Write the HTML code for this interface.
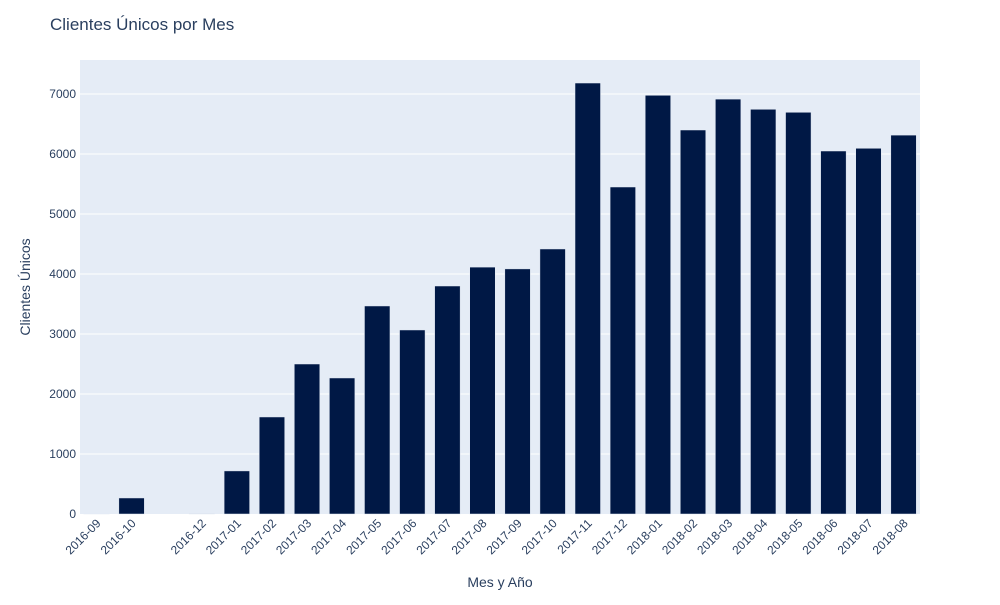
<!DOCTYPE html>
<html><head><meta charset="utf-8"><style>
body{margin:0;background:#fff;font-family:"Liberation Sans",Arial,sans-serif}
svg text{font-family:"Liberation Sans",Arial,sans-serif;fill:#2a3f5f}
</style></head><body>
<svg id="chart" width="1000" height="600">
<rect x="0" y="0" width="1000" height="600" fill="#fff"/>
<rect x="80" y="60" width="840" height="454" fill="#e5ecf6"/>
<g id="grid"></g><g id="bars"></g><g id="xt"></g><g id="yt"></g>
<text x="50" y="30" font-size="17">Clientes Únicos por Mes</text>
<text x="500" y="587" font-size="14" text-anchor="middle">Mes y Año</text>
<text transform="translate(30,287) rotate(-90)" font-size="14" text-anchor="middle">Clientes Únicos</text>
</svg>
<script>
const months=["2016-09","2016-10","2016-11","2016-12","2017-01","2017-02","2017-03","2017-04","2017-05","2017-06","2017-07","2017-08","2017-09","2017-10","2017-11","2017-12","2018-01","2018-02","2018-03","2018-04","2018-05","2018-06","2018-07","2018-08"];
const values=[4,267,null,1,718,1617,2500,2267,3467,3067,3800,4115,4085,4417,7183,5450,6978,6400,6915,6745,6695,6050,6095,6315];
const yTicks=[0,1000,2000,3000,4000,5000,6000,7000];
const NS="http://www.w3.org/2000/svg";
const x=i=>96.5+i*35.09;
const y=v=>514-v*0.06;
function mk(t,a,p){const e=document.createElementNS(NS,t);for(const k in a)e.setAttribute(k,a[k]);p.appendChild(e);return e;}
const g=document.getElementById('grid'),b=document.getElementById('bars'),xt=document.getElementById('xt'),yt=document.getElementById('yt');
yTicks.forEach(v=>{
 if(v>0){const l=mk('line',{x1:80,x2:920,y1:y(v),y2:y(v),stroke:'#fff','stroke-width':1},g);
 
 }
 const t=mk('text',{x:76,y:y(v)+4,'font-size':12,'text-anchor':'end'},yt);t.textContent=v;
 
 
});
months.forEach((m,i)=>{
 const v=values[i];if(v===null)return;
 const r=mk('rect',{x:x(i)-12.75,y:y(v),width:25.5,height:514-y(v),fill:'#001845',stroke:'#e5ecf6','stroke-width':0.5},b);
 
 
 const t=mk('text',{transform:`translate(${x(i)+5},${524}) rotate(-45)`,'font-size':12,'text-anchor':'end'},xt);t.textContent=m;
 
 
});
</script>
</body></html>
